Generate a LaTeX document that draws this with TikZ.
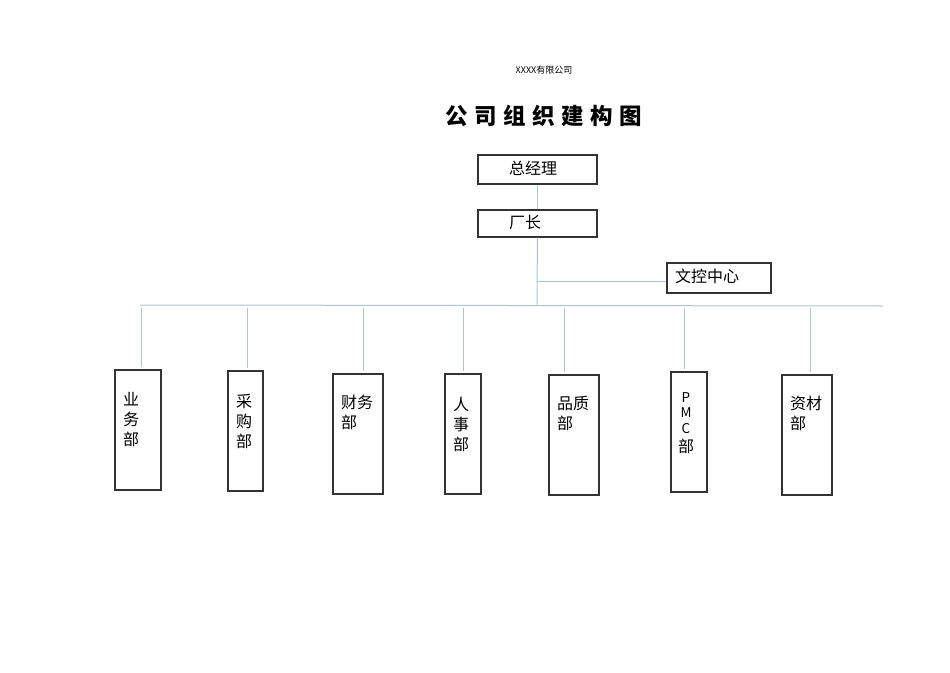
\documentclass[tikz,border=0pt]{standalone}
\usepackage{fontspec}
\newfontfamily\cjk{Noto Sans CJK SC}
\begin{document}
\begin{tikzpicture}[x=1pt,y=-1pt,
  box/.style={draw=black!80,line width=1.2pt,inner sep=0pt},
  lbl/.style={font=\cjk\fontsize{16}{20}\selectfont,inner sep=0pt,align=center},
  link/.style={draw={rgb,255:red,170;green,196;blue,216},line width=1pt}]
\useasboundingbox (0,0) rectangle (950,672);
% headings
\node[font=\cjk\fontsize{9}{11}\selectfont] (company) at (544,70) {XXXX有限公司};
\node[font=\cjk\bfseries\fontsize{22.5}{26}\selectfont] (title) at (544,116)
  {公\hspace{6.5pt}司\hspace{6.5pt}组\hspace{6.5pt}织\hspace{6.5pt}建\hspace{6.5pt}构\hspace{6.5pt}图};
% top of the hierarchy
\node[box,minimum width=119pt,minimum height=29pt] (gm) at (537.5,169.5) {};
\node[lbl] (gmT) at (533,168) {总经理};
\node[box,minimum width=119pt,minimum height=27pt] (fm) at (537.5,223.5) {};
\node[lbl,anchor=west] (fmT) at (509,222) {厂长};
\node[box,minimum width=104pt,minimum height=30pt] (dc) at (719,278) {};
\node[lbl,anchor=west] (dcT) at (675,276) {文控中心};
% departments
\node[box,minimum width=46pt,minimum height=120pt] (d1) at (138,430) {};
\node[box,minimum width=35pt,minimum height=120pt] (d2) at (245.5,431) {};
\node[box,minimum width=50pt,minimum height=120pt] (d3) at (358,434) {};
\node[box,minimum width=36pt,minimum height=120pt] (d4) at (463,434) {};
\node[box,minimum width=50pt,minimum height=120pt] (d5) at (574,435) {};
\node[box,minimum width=36pt,minimum height=120pt] (d6) at (689,432) {};
\node[box,minimum width=50pt,minimum height=120pt] (d7) at (807,435) {};
\node[lbl,anchor=north] (t1) at (131,392) {业\\务\\部};
\node[lbl,anchor=north] (t2) at (244,394) {采\\购\\部};
\node[lbl,anchor=north west,align=left] (t3) at (341,395) {财务\\部};
\node[lbl,anchor=north] (t4) at (461,397) {人\\事\\部};
\node[lbl,anchor=north west,align=left] (t5) at (557,396) {品质\\部};
\node[lbl,anchor=north,font=\cjk\fontsize{13.5}{15.5}\selectfont] (t6) at (686,392)
  {P\\M\\C\\[4pt]{\fontsize{16}{20}\selectfont 部}};
\node[lbl,anchor=north west,align=left] (t7) at (790,396) {资材\\部};
% connectors
\coordinate (hub) at (537,305);
\coordinate (busL) at (140,305);
\coordinate (busR) at (883,306);
\coordinate (tee) at (537,281);
\draw[link] (gm) -- (fm);
\draw[link] (fm) -- (hub);
\draw[link] (tee) -- (dc.west |- tee);
\draw[link] (busL) -- (busR);
\foreach \i/\x in {1/141,2/247,3/363,4/463,5/564,6/684,7/810}{
  \coordinate (c\i) at (\x,308);
  \draw[link,shorten >=2pt] (c\i) -- (c\i |- d\i.north);
}
\end{tikzpicture}
\end{document}
